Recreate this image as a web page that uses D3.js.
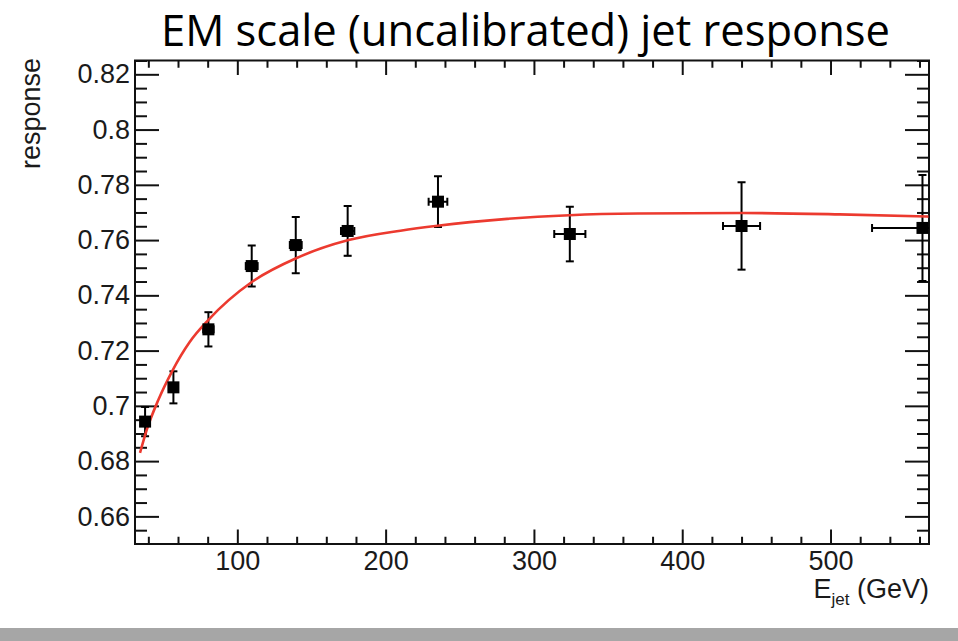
<!DOCTYPE html>
<html lang="en">
<head>
    <meta charset="UTF-8">
    <title>EM scale jet response</title>
    <script src="https://cdn.jsdelivr.net/npm/d3@7/dist/d3.min.js"></script>
    <style>
        html, body {
            margin: 0;
            padding: 0;
            background: #fff;
        }
        svg {
            display: block;
        }
        .tick text {
            font-family: "Liberation Sans", Arial, sans-serif;
            font-size: 27px;
            fill: #1a1a1a;
        }
        .tick line {
            stroke: #111;
            stroke-width: 2;
        }
    </style>
</head>
<body>
<div id="chart"></div>

<script>
    // measured points (E_jet in GeV, response)
    const energy = [37.8, 56.9, 80.5, 109.7, 139.4, 174.4, 235.3, 324.2, 440.0, 562.0];
    const energyErr = [2.5, 3, 3.5, 4, 4, 4.5, 6.3, 10.5, 12.5, 34];
    const response = [0.6943, 0.7067, 0.7277, 0.7506, 0.7582, 0.7633, 0.7739, 0.7622, 0.7651, 0.7644];
    const responseErr = [0.0053, 0.0058, 0.0062, 0.0074, 0.0102, 0.0090, 0.0092, 0.0099, 0.0158, 0.0192];

    // red fit curve
    const fitE = [34.4, 38.9, 46.7, 56, 68, 80.5, 110, 140, 175, 210, 235, 280, 324, 370, 440, 506, 566];
    const fitResponse = [0.6830, 0.6913, 0.7021, 0.7125, 0.7232, 0.7311, 0.7449, 0.7535, 0.7600,
        0.7634, 0.7652, 0.7676, 0.7690, 0.7696, 0.7698, 0.7693, 0.7685];

    const xTicks = [100, 200, 300, 400, 500];
    const xMinorTicks = d3.range(40, 561, 20).filter(v => v % 100 !== 0);
    const yTicks = [0.66, 0.68, 0.7, 0.72, 0.74, 0.76, 0.78, 0.8, 0.82];
    const yMinorTicks = d3.range(0.655, 0.8251, 0.005).filter(v => Math.abs(v * 50 - Math.round(v * 50)) > 1e-6);

    const width = 958, height = 641;
    const frame = {left: 135, right: 929, top: 60.5, bottom: 544};

    const x = d3.scaleLinear().domain([31, 566.4]).range([frame.left, frame.right]);
    const y = d3.scaleLinear().domain([0.65, 0.825]).range([frame.bottom, frame.top]);

    const svg = d3.select("#chart").append("svg")
        .attr("width", width)
        .attr("height", height);

    svg.append("rect").attr("width", width).attr("height", height).attr("fill", "#fff");

    // title
    svg.append("text")
        .attr("x", 161)
        .attr("y", 46)
        .attr("textLength", 729)
        .attr("lengthAdjust", "spacingAndGlyphs")
        .style("font-family", "'Open Sans', 'Noto Sans', sans-serif")
        .style("font-size", "43px")
        .style("fill", "#000")
        .text("EM scale (uncalibrated) jet response");

    // axes with ticks pointing inward
    const xLen = 14.5, yLen = 24;

    function addAxis(axis, tx, ty) {
        const g = svg.append("g").attr("transform", `translate(${tx},${ty})`).call(axis);
        g.select(".domain").remove();
        return g;
    }

    addAxis(d3.axisBottom(x).tickValues(xTicks).tickSizeInner(-xLen).tickSizeOuter(0).tickPadding(7)
        .tickFormat(d3.format("d")), 0, frame.bottom);
    addAxis(d3.axisBottom(x).tickValues(xMinorTicks).tickSizeInner(-xLen / 2).tickSizeOuter(0)
        .tickFormat(""), 0, frame.bottom);
    addAxis(d3.axisTop(x).tickValues(xTicks).tickSizeInner(-xLen).tickSizeOuter(0)
        .tickFormat(""), 0, frame.top);
    addAxis(d3.axisTop(x).tickValues(xMinorTicks).tickSizeInner(-xLen / 2).tickSizeOuter(0)
        .tickFormat(""), 0, frame.top);

    addAxis(d3.axisLeft(y).tickValues(yTicks).tickSizeInner(-yLen).tickSizeOuter(0).tickPadding(5)
        .tickFormat(d => String(+d.toFixed(2))), frame.left, 0);
    addAxis(d3.axisLeft(y).tickValues(yMinorTicks).tickSizeInner(-yLen / 2).tickSizeOuter(0)
        .tickFormat(""), frame.left, 0);
    addAxis(d3.axisRight(y).tickValues(yTicks).tickSizeInner(-yLen).tickSizeOuter(0)
        .tickFormat(""), frame.right, 0);
    addAxis(d3.axisRight(y).tickValues(yMinorTicks).tickSizeInner(-yLen / 2).tickSizeOuter(0)
        .tickFormat(""), frame.right, 0);

    // frame
    svg.append("rect")
        .attr("x", frame.left)
        .attr("y", frame.top)
        .attr("width", frame.right - frame.left)
        .attr("height", frame.bottom - frame.top)
        .attr("fill", "none")
        .attr("stroke", "#111")
        .attr("stroke-width", 2);

    svg.append("clipPath").attr("id", "plot-clip")
        .append("rect")
        .attr("x", frame.left)
        .attr("y", frame.top)
        .attr("width", frame.right - frame.left)
        .attr("height", frame.bottom - frame.top);

    const plot = svg.append("g").attr("clip-path", "url(#plot-clip)");

    const points = energy.map((e, i) => ({e, de: energyErr[i], r: response[i], dr: responseErr[i]}));
    const cap = 4;

    const bars = plot.append("g")
        .attr("stroke", "#000")
        .attr("stroke-width", 2)
        .selectAll("g")
        .data(points)
        .join("g");

    // vertical error bars + caps
    bars.append("line")
        .attr("x1", d => x(d.e)).attr("x2", d => x(d.e))
        .attr("y1", d => y(d.r - d.dr)).attr("y2", d => y(d.r + d.dr));
    bars.append("line")
        .attr("x1", d => x(d.e) - cap).attr("x2", d => x(d.e) + cap)
        .attr("y1", d => y(d.r + d.dr)).attr("y2", d => y(d.r + d.dr));
    bars.append("line")
        .attr("x1", d => x(d.e) - cap).attr("x2", d => x(d.e) + cap)
        .attr("y1", d => y(d.r - d.dr)).attr("y2", d => y(d.r - d.dr));

    // horizontal error bars + caps
    bars.append("line")
        .attr("x1", d => x(d.e - d.de)).attr("x2", d => x(d.e + d.de))
        .attr("y1", d => y(d.r)).attr("y2", d => y(d.r));
    bars.append("line")
        .attr("x1", d => x(d.e - d.de)).attr("x2", d => x(d.e - d.de))
        .attr("y1", d => y(d.r) - cap).attr("y2", d => y(d.r) + cap);
    bars.append("line")
        .attr("x1", d => x(d.e + d.de)).attr("x2", d => x(d.e + d.de))
        .attr("y1", d => y(d.r) - cap).attr("y2", d => y(d.r) + cap);

    // fit curve
    const fit = fitE.map((e, i) => [e, fitResponse[i]]);
    plot.append("path")
        .datum(fit)
        .attr("fill", "none")
        .attr("stroke", "#ec3a2f")
        .attr("stroke-width", 2.6)
        .attr("d", d3.line().x(d => x(d[0])).y(d => y(d[1])).curve(d3.curveMonotoneX));

    // square markers
    const size = 12;
    svg.append("g")
        .selectAll("rect")
        .data(points)
        .join("rect")
        .attr("x", d => x(d.e) - size / 2)
        .attr("y", d => y(d.r) - size / 2)
        .attr("width", size)
        .attr("height", size)
        .attr("fill", "#000");

    // axis titles
    const xTitle = svg.append("text")
        .attr("x", frame.right)
        .attr("y", 598)
        .attr("text-anchor", "end")
        .style("font-family", "'Liberation Sans', Arial, sans-serif")
        .style("font-size", "27px")
        .style("fill", "#1a1a1a");
    xTitle.append("tspan").text("E");
    xTitle.append("tspan").attr("dy", 7).style("font-size", "17px").text("jet");
    xTitle.append("tspan").attr("dy", -7).text(" (GeV)");

    svg.append("text")
        .attr("transform", "translate(40,58) rotate(-90)")
        .attr("text-anchor", "end")
        .style("font-family", "'Liberation Sans', Arial, sans-serif")
        .style("font-size", "27px")
        .style("fill", "#1a1a1a")
        .text("response");

    // grey strip along the bottom
    svg.append("rect")
        .attr("x", 0)
        .attr("y", 628)
        .attr("width", width)
        .attr("height", height - 628)
        .attr("fill", "#a6a6a6");
</script>
</body>
</html>
